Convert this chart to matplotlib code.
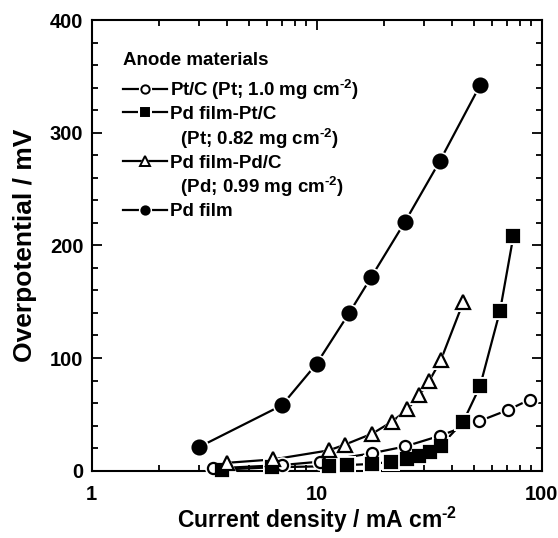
import matplotlib
matplotlib.use("Agg")
import matplotlib.pyplot as plt
from matplotlib.lines import Line2D
from matplotlib.ticker import MultipleLocator, NullFormatter, LogLocator

plt.rcParams['font.family'] = ['Liberation Sans', 'DejaVu Sans']
plt.rcParams['font.weight'] = 'bold'
plt.rcParams['mathtext.fontset'] = 'custom'
plt.rcParams['mathtext.rm'] = 'Liberation Sans:bold'
plt.rcParams['mathtext.bf'] = 'Liberation Sans:bold'
plt.rcParams['mathtext.it'] = 'Liberation Sans:bold'
plt.rcParams['mathtext.default'] = 'bf'

# Data (current density mA cm^-2, overpotential mV)
ptc_x = [3.45, 7.0, 10.3, 17.6, 24.7, 35.3, 52.8, 71.0, 88.3]
ptc_y = [2, 5, 8, 15.5, 21.5, 31, 44, 54, 63]

pdptc_x = [3.8, 6.3, 11.3, 13.6, 17.7, 21.5, 25.3, 28.5, 31.9, 35.5, 44.8, 53.2, 65.3, 74.8]
pdptc_y = [1, 3, 4, 5, 6, 8, 10, 13, 17, 22, 43.5, 75, 142, 208]

pdpdc_x = [4.0, 6.4, 11.3, 13.3, 17.7, 21.6, 25.3, 28.6, 31.7, 35.6, 44.9]
pdpdc_y = [7, 10, 18, 23, 33, 43.5, 54.5, 67, 80, 98, 150]

pd_x = [3.0, 7.0, 10.0, 13.95, 17.5, 24.7, 35.3, 53.2]
pd_y = [21, 58, 95, 140, 172, 221, 275, 342]

labels = ["Pt/C\u2009(Pt; 1.0 mg cm$^{\\text{-2}}$)",
          "Pd film-Pt/C",
          r"  (Pt; 0.82 mg cm$^{\text{-2}}$)",
          "Pd film-Pd/C",
          r"  (Pd; 0.99 mg cm$^{\text{-2}}$)",
          "Pd film"]

fig = plt.figure(figsize=(5.58, 5.38), dpi=100)
ax = fig.add_axes([0.1643, 0.1251, 0.8065, 0.8377])

styles = [
    (ptc_x, ptc_y, 'o', 'white', 8),
    (pdptc_x, pdptc_y, 's', 'black', 8.5),
    (pdpdc_x, pdpdc_y, '^', 'white', 10),
    (pd_x, pd_y, 'o', 'black', 10),
]

handles = []
for x, y, m, fc, ms in styles:
    ax.plot(x, y, '-', color='black', lw=1.6, zorder=2, clip_on=False)
    ax.plot(x, y, linestyle='none', marker=m, ms=ms + 4, mfc='white', mec='white',
            mew=0, zorder=3, clip_on=False)
    ax.plot(x, y, linestyle='none', marker=m, ms=ms, mfc=fc, mec='black',
            mew=1.6, zorder=4, clip_on=False)
    # legend proxies (smaller markers)
    lms = 6 if m != '^' else 7
    hl = Line2D([], [], color='black', lw=1.6)
    hh = Line2D([], [], linestyle='none', marker=m, ms=lms + 3.5, mfc='white', mec='white', mew=0)
    hm = Line2D([], [], linestyle='none', marker=m, ms=lms, mfc=fc, mec='black', mew=1.4)
    handles.append((hl, hh, hm))

ax.set_xscale('log')
ax.set_xlim(1, 100)
ax.set_ylim(0, 400)
ax.set_xticks([1, 10, 100])
ax.set_xticklabels(['1', '10', '100'])
ax.xaxis.set_minor_locator(LogLocator(base=10, subs=range(2, 10)))
ax.xaxis.set_minor_formatter(NullFormatter())
ax.yaxis.set_major_locator(MultipleLocator(100))
ax.yaxis.set_minor_locator(MultipleLocator(20))

for s in ax.spines.values():
    s.set_linewidth(1.5)
ax.tick_params(which='both', direction='in', top=True, right=True, width=1.3)
ax.tick_params(which='major', length=7, labelsize=14.5)
ax.tick_params(axis='x', which='major', pad=10)
ax.tick_params(axis='y', which='major', pad=6)
ax.tick_params(which='minor', length=4)

ax.set_xlabel(r"Current density / mA cm$^{\text{-2}}$", fontsize=16.5, fontweight='bold', labelpad=1)
ax.set_ylabel("Overpotential / mV", fontsize=19, fontweight='bold', labelpad=9)

blank = Line2D([], [], linestyle='none', marker=None)
leg_handles = [handles[0], handles[1], blank, handles[2], blank, handles[3]]
leg = ax.legend(leg_handles, labels, loc='upper left', bbox_to_anchor=(0.0689, 0.93),
                frameon=False, fontsize=13.5, title="Anode materials",
                title_fontproperties={'weight': 'bold', 'size': 13.5},
                handlelength=2.35, handletextpad=0.2, labelspacing=0.2,
                numpoints=1, alignment='left', borderaxespad=0, borderpad=0)
leg._legend_box.sep = 13.5 * 0.2 + 4

fig.savefig("out.png", dpi=100)
